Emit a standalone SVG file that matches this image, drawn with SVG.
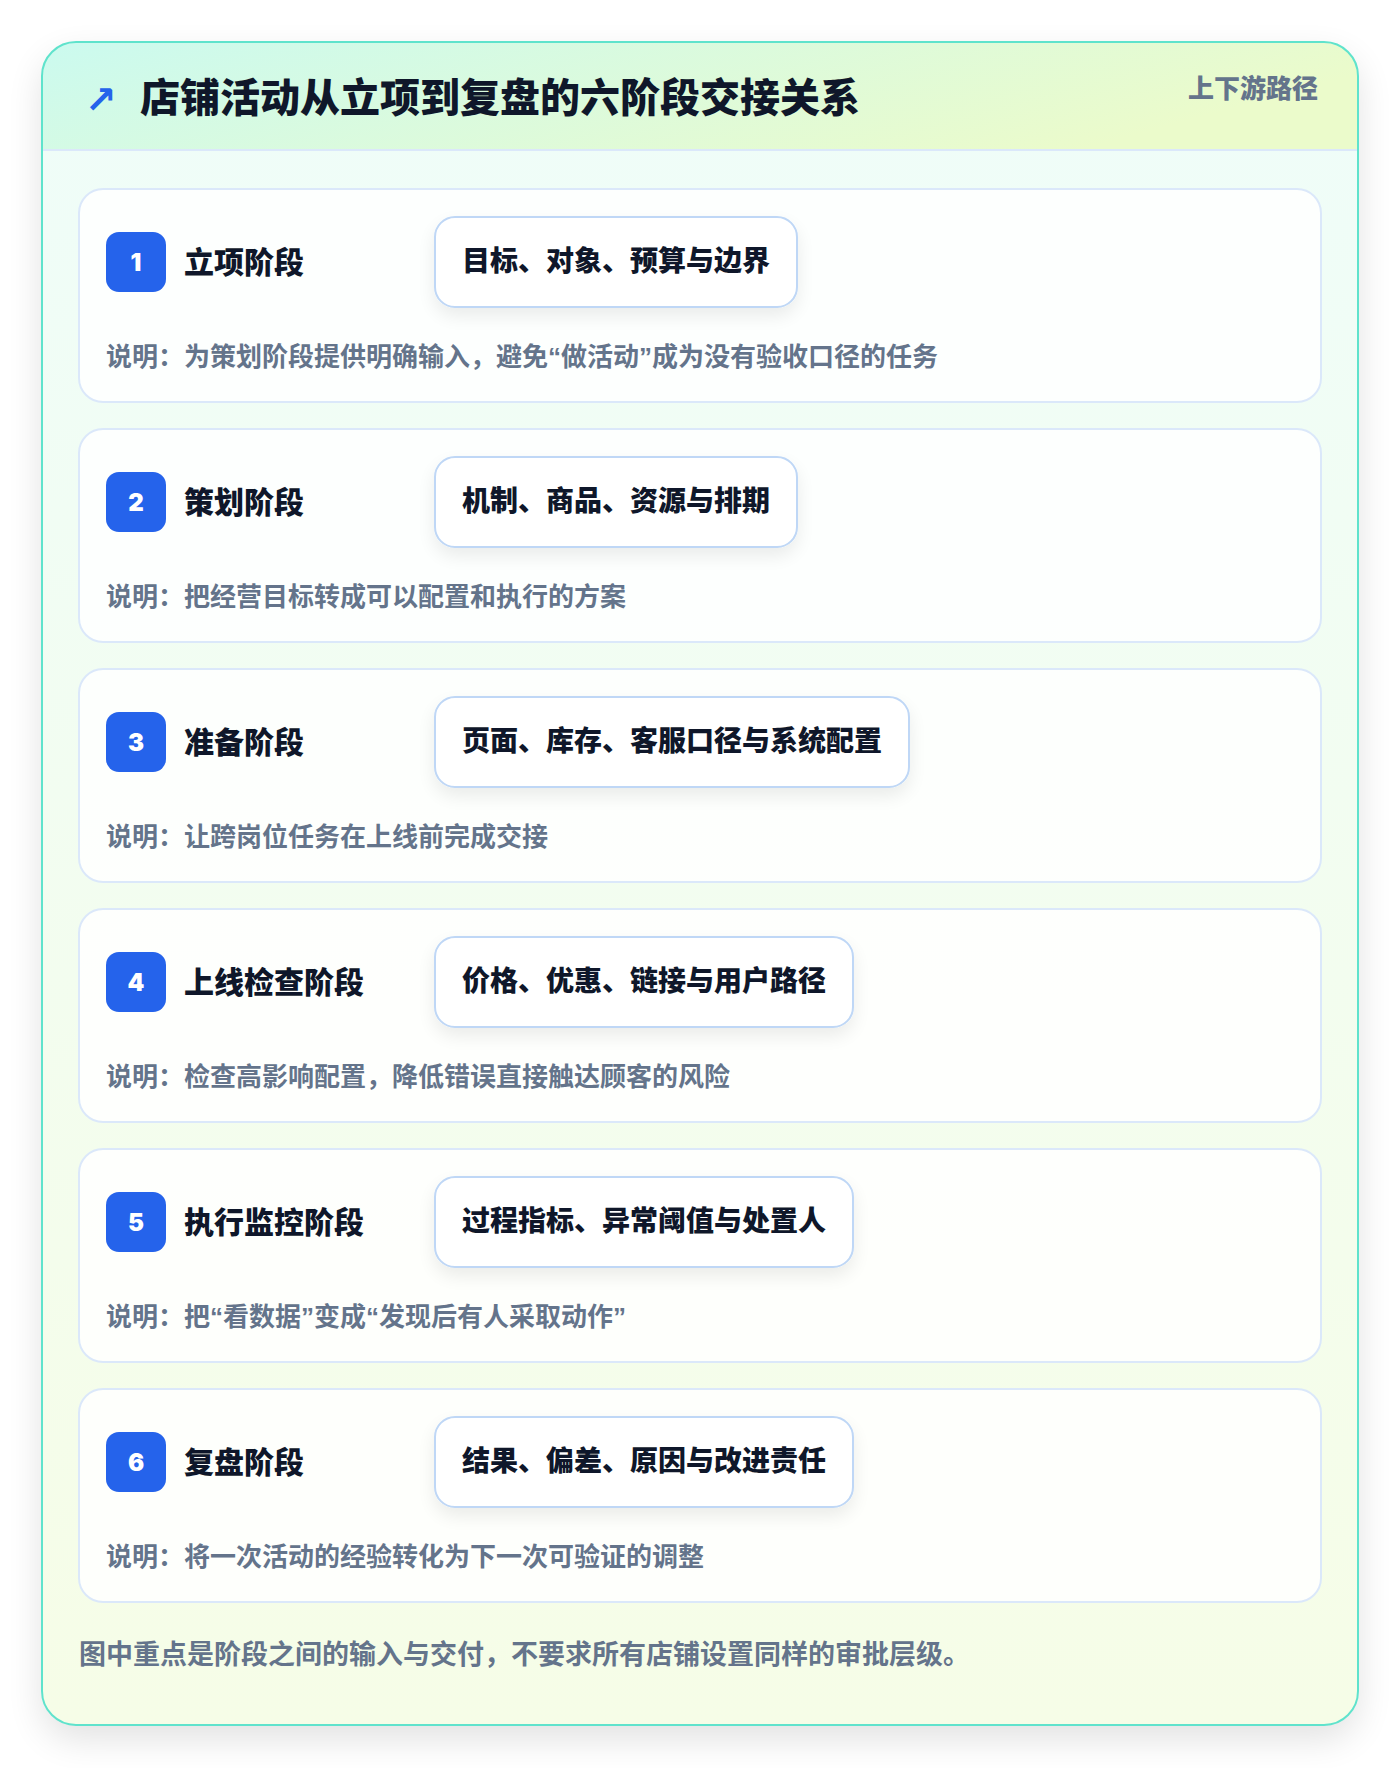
<svg xmlns="http://www.w3.org/2000/svg" width="1400" height="1768" viewBox="0 0 1400 1768">
<defs>
<linearGradient id="hdr" x1="0" y1="0" x2="1" y2="0.3">
<stop offset="0" stop-color="#cbfaef"/>
<stop offset="1" stop-color="#ebfbcb"/>
</linearGradient>
<linearGradient id="body" x1="0" y1="0" x2="0" y2="1">
<stop offset="0" stop-color="#effdf9"/>
<stop offset="1" stop-color="#f6fde7"/>
</linearGradient>
<filter id="outerShadow" x="-10%" y="-10%" width="120%" height="120%">
<feGaussianBlur in="SourceAlpha" stdDeviation="18"/>
<feOffset dy="14"/>
<feComponentTransfer><feFuncA type="linear" slope="0.12"/></feComponentTransfer>
<feMerge><feMergeNode/><feMergeNode in="SourceGraphic"/></feMerge>
</filter>
<filter id="pillShadow" x="-20%" y="-40%" width="140%" height="200%">
<feGaussianBlur in="SourceAlpha" stdDeviation="9"/>
<feOffset dy="8"/>
<feComponentTransfer><feFuncA type="linear" slope="0.08"/></feComponentTransfer>
<feMerge><feMergeNode/><feMergeNode in="SourceGraphic"/></feMerge>
</filter>
<clipPath id="cardClip"><rect x="42" y="42" width="1316" height="1683" rx="34"/></clipPath>
</defs>
<style>
text{font-family:Inter,"Noto Sans CJK SC",sans-serif;font-weight:700}
.q{font-family:"Liberation Sans",sans-serif}
.card{fill:#ffffff;fill-opacity:0.85;stroke:#dbe8fa;stroke-width:2}
.badge{fill:#2563eb}
.num{fill:#ffffff;font-size:24px;font-weight:900;text-anchor:middle}
.label{fill:#0f172a;font-size:30px;font-weight:800}
.pill{fill:#ffffff;stroke:#bfd7f6;stroke-width:2}
.pilltxt{fill:#0f172a;font-size:28px;font-weight:800}
.desc{fill:#64748b;font-size:26px}
</style>
<rect width="1400" height="1768" fill="#ffffff"/>
<g id="frame">
<rect x="42" y="42" width="1316" height="1683" rx="34" fill="url(#body)" filter="url(#outerShadow)"/>
<g clip-path="url(#cardClip)">
<rect x="42" y="42" width="1316" height="108" fill="url(#hdr)"/>
<line x1="42" y1="150" x2="1358" y2="150" stroke="#dbe8fa" stroke-width="2"/>
</g>
<rect x="42" y="42" width="1316" height="1683" rx="34" fill="none" stroke="#5fe3cc" stroke-width="2"/>
</g>
<g id="header">
<text x="85" y="113" font-size="38" fill="#2563eb" style="font-family:'DejaVu Sans'">↗</text>
<text x="140" y="112" font-size="40" fill="#0f172a" style="font-weight:900">店铺活动从立项到复盘的六阶段交接关系</text>
<text x="1318" y="98" font-size="26" fill="#64748b" text-anchor="end" style="font-weight:800">上下游路径</text>
</g>
<g id="connectors"></g>
<g id="stage1" transform="translate(0,189)">
<rect class="card" x="79" y="0" width="1242" height="213" rx="24"/>
<rect class="badge" x="106" y="43" width="60" height="60" rx="13"/>
<text class="num" x="136" y="82">1</text>
<text class="label" x="184" y="84">立项阶段</text>
<rect class="pill" x="435" y="28" width="362" height="90" rx="20" filter="url(#pillShadow)"/>
<text class="pilltxt" x="462" y="82">目标、对象、预算与边界</text>
<text class="desc" x="106" y="177">说明：为策划阶段提供明确输入，避免<tspan class="q">“</tspan>做活动<tspan class="q">”</tspan>成为没有验收口径的任务</text>
</g>
<g id="stage2" transform="translate(0,429)">
<rect class="card" x="79" y="0" width="1242" height="213" rx="24"/>
<rect class="badge" x="106" y="43" width="60" height="60" rx="13"/>
<text class="num" x="136" y="82">2</text>
<text class="label" x="184" y="84">策划阶段</text>
<rect class="pill" x="435" y="28" width="362" height="90" rx="20" filter="url(#pillShadow)"/>
<text class="pilltxt" x="462" y="82">机制、商品、资源与排期</text>
<text class="desc" x="106" y="177">说明：把经营目标转成可以配置和执行的方案</text>
</g>
<g id="stage3" transform="translate(0,669)">
<rect class="card" x="79" y="0" width="1242" height="213" rx="24"/>
<rect class="badge" x="106" y="43" width="60" height="60" rx="13"/>
<text class="num" x="136" y="82">3</text>
<text class="label" x="184" y="84">准备阶段</text>
<rect class="pill" x="435" y="28" width="474" height="90" rx="20" filter="url(#pillShadow)"/>
<text class="pilltxt" x="462" y="82">页面、库存、客服口径与系统配置</text>
<text class="desc" x="106" y="177">说明：让跨岗位任务在上线前完成交接</text>
</g>
<g id="stage4" transform="translate(0,909)">
<rect class="card" x="79" y="0" width="1242" height="213" rx="24"/>
<rect class="badge" x="106" y="43" width="60" height="60" rx="13"/>
<text class="num" x="136" y="82">4</text>
<text class="label" x="184" y="84">上线检查阶段</text>
<rect class="pill" x="435" y="28" width="418" height="90" rx="20" filter="url(#pillShadow)"/>
<text class="pilltxt" x="462" y="82">价格、优惠、链接与用户路径</text>
<text class="desc" x="106" y="177">说明：检查高影响配置，降低错误直接触达顾客的风险</text>
</g>
<g id="stage5" transform="translate(0,1149)">
<rect class="card" x="79" y="0" width="1242" height="213" rx="24"/>
<rect class="badge" x="106" y="43" width="60" height="60" rx="13"/>
<text class="num" x="136" y="82">5</text>
<text class="label" x="184" y="84">执行监控阶段</text>
<rect class="pill" x="435" y="28" width="418" height="90" rx="20" filter="url(#pillShadow)"/>
<text class="pilltxt" x="462" y="82">过程指标、异常阈值与处置人</text>
<text class="desc" x="106" y="177">说明：把<tspan class="q">“</tspan>看数据<tspan class="q">”</tspan>变成<tspan class="q">“</tspan>发现后有人采取动作<tspan class="q">”</tspan></text>
</g>
<g id="stage6" transform="translate(0,1389)">
<rect class="card" x="79" y="0" width="1242" height="213" rx="24"/>
<rect class="badge" x="106" y="43" width="60" height="60" rx="13"/>
<text class="num" x="136" y="82">6</text>
<text class="label" x="184" y="84">复盘阶段</text>
<rect class="pill" x="435" y="28" width="418" height="90" rx="20" filter="url(#pillShadow)"/>
<text class="pilltxt" x="462" y="82">结果、偏差、原因与改进责任</text>
<text class="desc" x="106" y="177">说明：将一次活动的经验转化为下一次可验证的调整</text>
</g>
<g id="footer">
<text x="79" y="1664" font-size="27" fill="#64748b">图中重点是阶段之间的输入与交付，不要求所有店铺设置同样的审批层级。</text>
</g>
</svg>
